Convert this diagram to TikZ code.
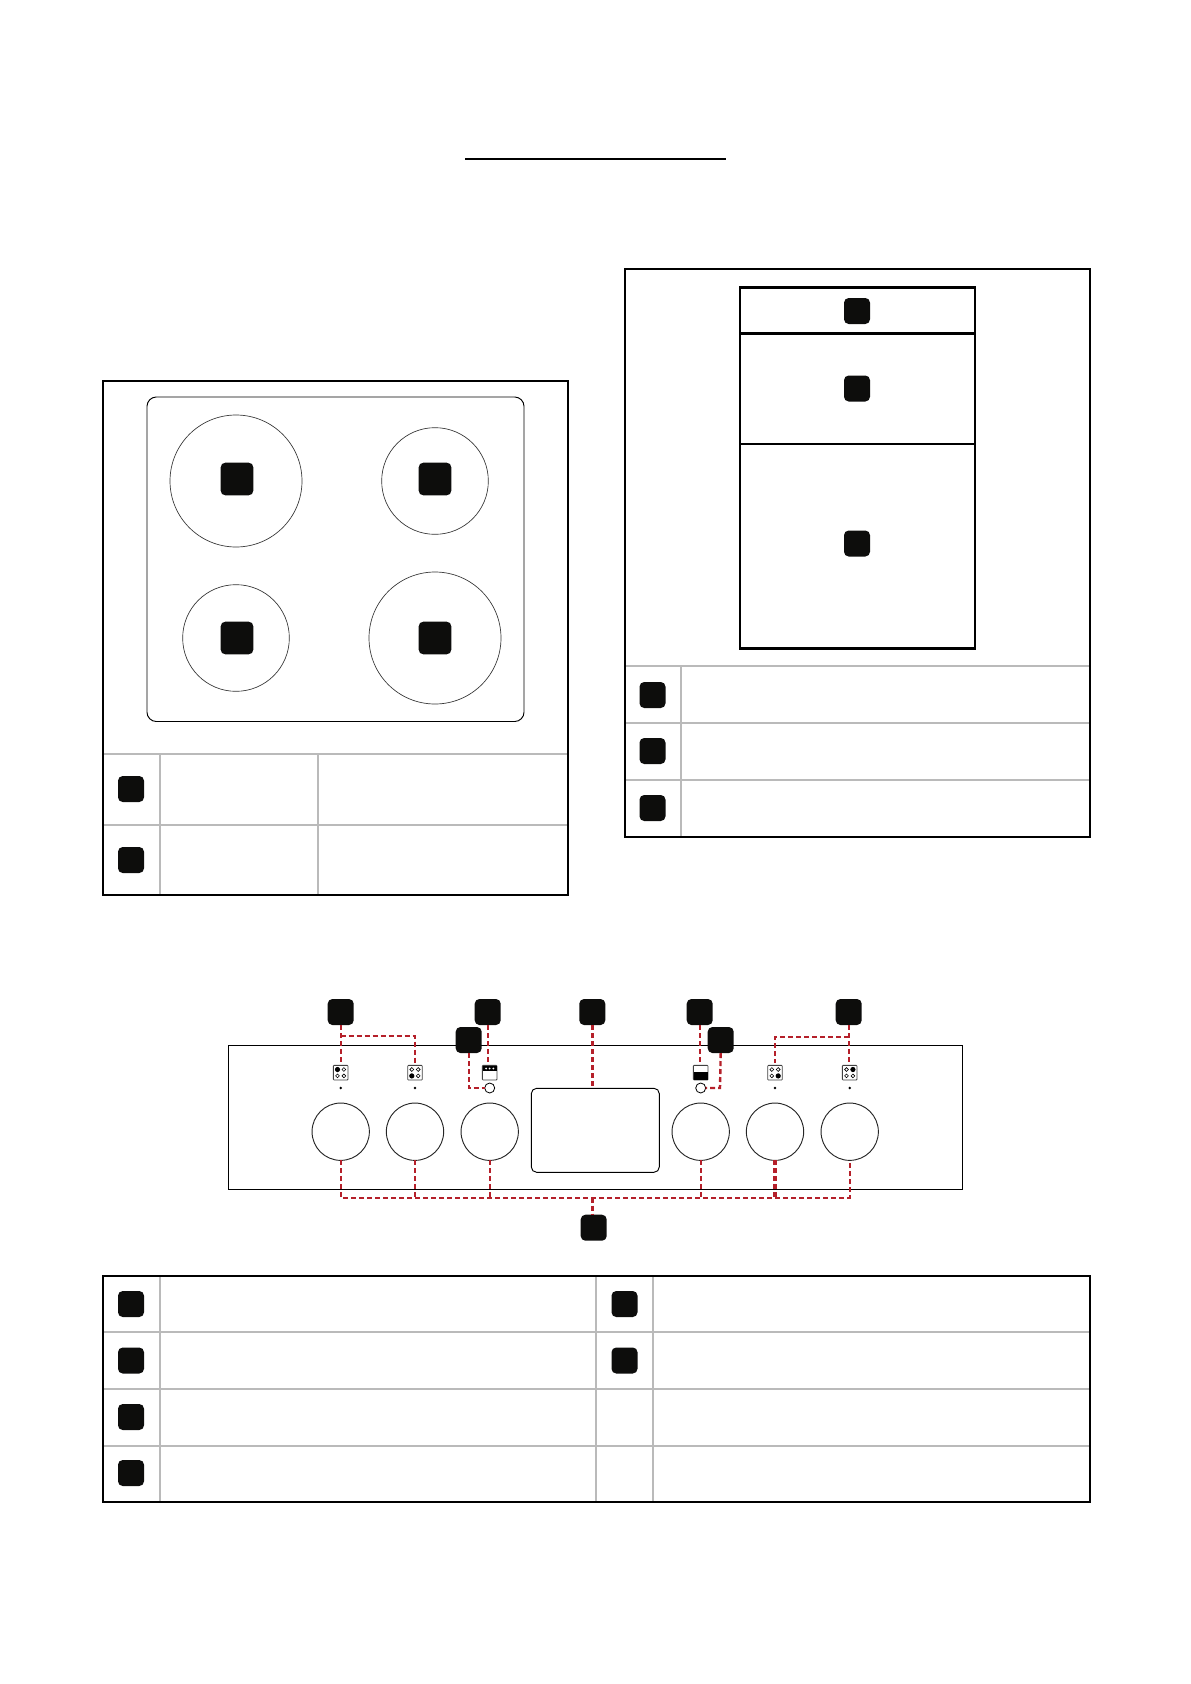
\documentclass[tikz,border=0pt]{standalone}
\usepackage{amsmath}
\usepackage{tikz}
\definecolor{mark}{RGB}{13,13,12}
\definecolor{rule}{RGB}{186,186,186}
\definecolor{lead}{RGB}{181,32,42}
\tikzset{
  tag/.style={draw=none,fill=mark,rounded corners=3.5pt,minimum size=19.5pt,inner sep=0pt,outer sep=0pt},
  bigtag/.style={tag,minimum size=24.5pt},
  knob/.style={circle,draw=black!85,line width=0.7pt,minimum size=43pt,inner sep=0pt,outer sep=0pt},
  zone/.style={circle,draw=black!80,line width=0.5pt,inner sep=0pt},
  lamp/.style={circle,draw=black,line width=0.6pt,fill=white,minimum size=7.5pt,inner sep=0pt,outer sep=0pt},
  pip/.style={circle,fill=black,minimum size=2pt,inner sep=0pt},
  icon/.style={draw=black!75,line width=0.6pt,fill=white,rounded corners=0.6pt,minimum size=11pt,inner sep=0pt,outer sep=2pt},
  frame/.style={draw=black,line width=1.5pt},
  grid/.style={draw=rule,line width=1.5pt},
  leader/.style={draw=lead,line width=1.8pt,dash pattern=on 3.75pt off 2.25pt},
}
\newcommand{\hobicon}[4]{%
  \node [icon] (#1) at (#2) {};
  \foreach \u/\v in {-1/-1,1/-1,-1/1,1/1} \draw [line width=0.45pt,fill=white] ($(#1)+(\u*3.2,\v*3.2)$) circle (1.9);
  \fill [black] ($(#1)+(#3*3.2,#4*3.2)$) circle (2.6);
}
\usetikzlibrary{calc}
\begin{document}
\begin{tikzpicture}[x=0.75pt,y=0.75pt,yscale=-1,xscale=1]
\useasboundingbox (0,0) rectangle (1191,1684);

%Title rule
\draw [line width=1.5pt] (465,159) -- (726,159);

%Hob box
\draw [grid] (103,754) -- (568,754);
\draw [grid] (103,825) -- (568,825);
\draw [grid] (160,754) -- (160,895);
\draw [grid] (318,754) -- (318,895);
\draw [frame] (103,381) rectangle (568,895);
\draw [line width=0.7pt,rounded corners=7pt] (147,397) rectangle (524,721.5);
\node [zone,minimum size=99pt] (zoneA) at (236,481) {};
\node [zone,minimum size=80pt] (zoneB) at (435,481) {};
\node [zone,minimum size=80pt] (zoneC) at (236,638) {};
\node [zone,minimum size=99pt] (zoneD) at (435,638) {};
\node [bigtag] (tagA) at (237,479) {};
\node [bigtag] (tagB) at (435,479) {};
\node [bigtag] (tagC) at (237,638) {};
\node [bigtag] (tagD) at (435,638) {};
\node [tag] (hobOne) at (131,789) {};
\node [tag] (hobTwo) at (131,860) {};

%Oven box
\draw [grid] (625,666) -- (1090,666);
\draw [grid] (625,723) -- (1090,723);
\draw [grid] (625,780) -- (1090,780);
\draw [grid] (681,666) -- (681,837);
\draw [frame] (625,268.5) rectangle (1090,837);
\draw [line width=2.2pt] (740,287.5) rectangle (975,648.5);
\draw [line width=2.2pt] (740,333.5) -- (975,333.5);
\draw [line width=2.2pt] (740,444) -- (975,444);
\node [tag] (ovenA) at (857,311) {};
\node [tag] (ovenB) at (857,388.5) {};
\node [tag] (ovenC) at (857,543.5) {};
\node [tag] (ovenOne) at (652.5,695) {};
\node [tag] (ovenTwo) at (652.5,751) {};
\node [tag] (ovenThree) at (652.5,808) {};

%Control panel
\draw [line width=0.9pt] (228.5,1045.5) rectangle (962.5,1189.5);
\node [draw,line width=0.7pt,rounded corners=4pt,minimum width=96pt,minimum height=63pt,inner sep=0pt,outer sep=0pt] (display) at (595.3,1130.3) {};

\node [knob] (knobA) at (340.7,1131.7) {};
\node [knob] (knobB) at (415,1131.7) {};
\node [knob] (knobC) at (489.7,1131.7) {};
\node [knob] (knobD) at (700.7,1131.7) {};
\node [knob] (knobE) at (775,1131.7) {};
\node [knob] (knobF) at (849.7,1131.7) {};

\hobicon{iconA}{340.7,1072.7}{-1}{-1}
\hobicon{iconB}{415,1072.7}{-1}{1}
\hobicon{iconE}{775,1072.7}{1}{1}
\hobicon{iconF}{849.7,1072.7}{1}{-1}

%Oven icons
\node [icon] (iconC) at (489.7,1072.7) {};
\fill [black] (482.7,1066) rectangle (496.7,1071);
\foreach \u in {-3.6,0,3.6} \fill [white] (489.7+\u,1068.5) circle (1);
\node [icon] (iconD) at (700.7,1072.7) {};
\fill [black] (693.7,1071.5) rectangle (707.7,1079.7);

\node [pip] (pipA) at (340.7,1088) {};
\node [pip] (pipB) at (415,1088) {};
\node [pip] (pipE) at (775,1088) {};
\node [pip] (pipF) at (849.7,1088) {};
\node [lamp] (lampC) at (489.7,1088) {};
\node [lamp] (lampD) at (700.7,1088) {};

%Tags over the panel
\node [tag] (panelA) at (340.7,1012) {};
\node [tag] (panelB) at (487.7,1012) {};
\node [tag] (panelC) at (592.3,1012) {};
\node [tag] (panelD) at (699.7,1012) {};
\node [tag] (panelE) at (848.7,1012) {};
\node [tag] (panelF) at (468.7,1040) {};
\node [tag] (panelG) at (720.7,1040) {};
\node [tag] (panelH) at (593.7,1227.7) {};

\coordinate (turnA) at (340.7,1036);
\coordinate (turnB) at (415,1036);
\coordinate (turnE) at (775,1036.7);
\coordinate (turnF) at (848.7,1036.7);
\coordinate (turnC) at (468.7,1088);
\coordinate (turnD) at (720,1088);
\coordinate (busA) at (340.7,1197.7);
\coordinate (busH) at (592.3,1197.7);
\coordinate (busF) at (849.7,1197.7);

%Leaders
\draw [leader] (panelA.south) -- (iconA.north);
\draw [leader] (turnA) -- (turnB) -- (iconB.north);
\draw [leader] (panelB.south) -- (panelB.south |- iconC.north);
\draw [leader] (panelF.south) -- (turnC) -- (lampC.west);
\draw [leader,line width=2.6pt] (panelC.south) -- (panelC.south |- display.north);
\draw [leader] (panelD.south) -- (panelD.south |- iconD.north);
\draw [leader] (panelG.south) -- (turnD) -- (lampD.east);
\draw [leader] (panelE.south) -- (panelE.south |- iconF.north);
\draw [leader] (turnF) -- (turnE) -- (iconE.north);
\draw [leader] (knobA.south) -- (busA) -- (busF) -- (knobF.south);
\draw [leader] (knobB.south) -- (knobB.south |- busA);
\draw [leader] (knobC.south) -- (knobC.south |- busA);
\draw [leader] (knobD.south) -- (knobD.south |- busA);
\draw [leader,line width=2.6pt] (knobE.south) -- (knobE.south |- busA);
\draw [leader] (busH) -- (busH |- panelH.north);

%Table below
\draw [grid] (103,1331.5) -- (1090,1331.5);
\draw [grid] (103,1388.7) -- (1090,1388.7);
\draw [grid] (103,1445.6) -- (1090,1445.6);
\draw [grid] (159.5,1276) -- (159.5,1501.5);
\draw [grid] (596,1276) -- (596,1501.5);
\draw [grid] (653,1276) -- (653,1501.5);
\draw [frame] (103,1276) rectangle (1090,1501.5);
\node [tag] (rowA) at (131,1304) {};
\node [tag] (rowB) at (131,1360.5) {};
\node [tag] (rowC) at (131,1417) {};
\node [tag] (rowD) at (131,1473) {};
\node [tag] (rowE) at (624.5,1304) {};
\node [tag] (rowF) at (624.5,1360.5) {};

\end{tikzpicture}
\end{document}
